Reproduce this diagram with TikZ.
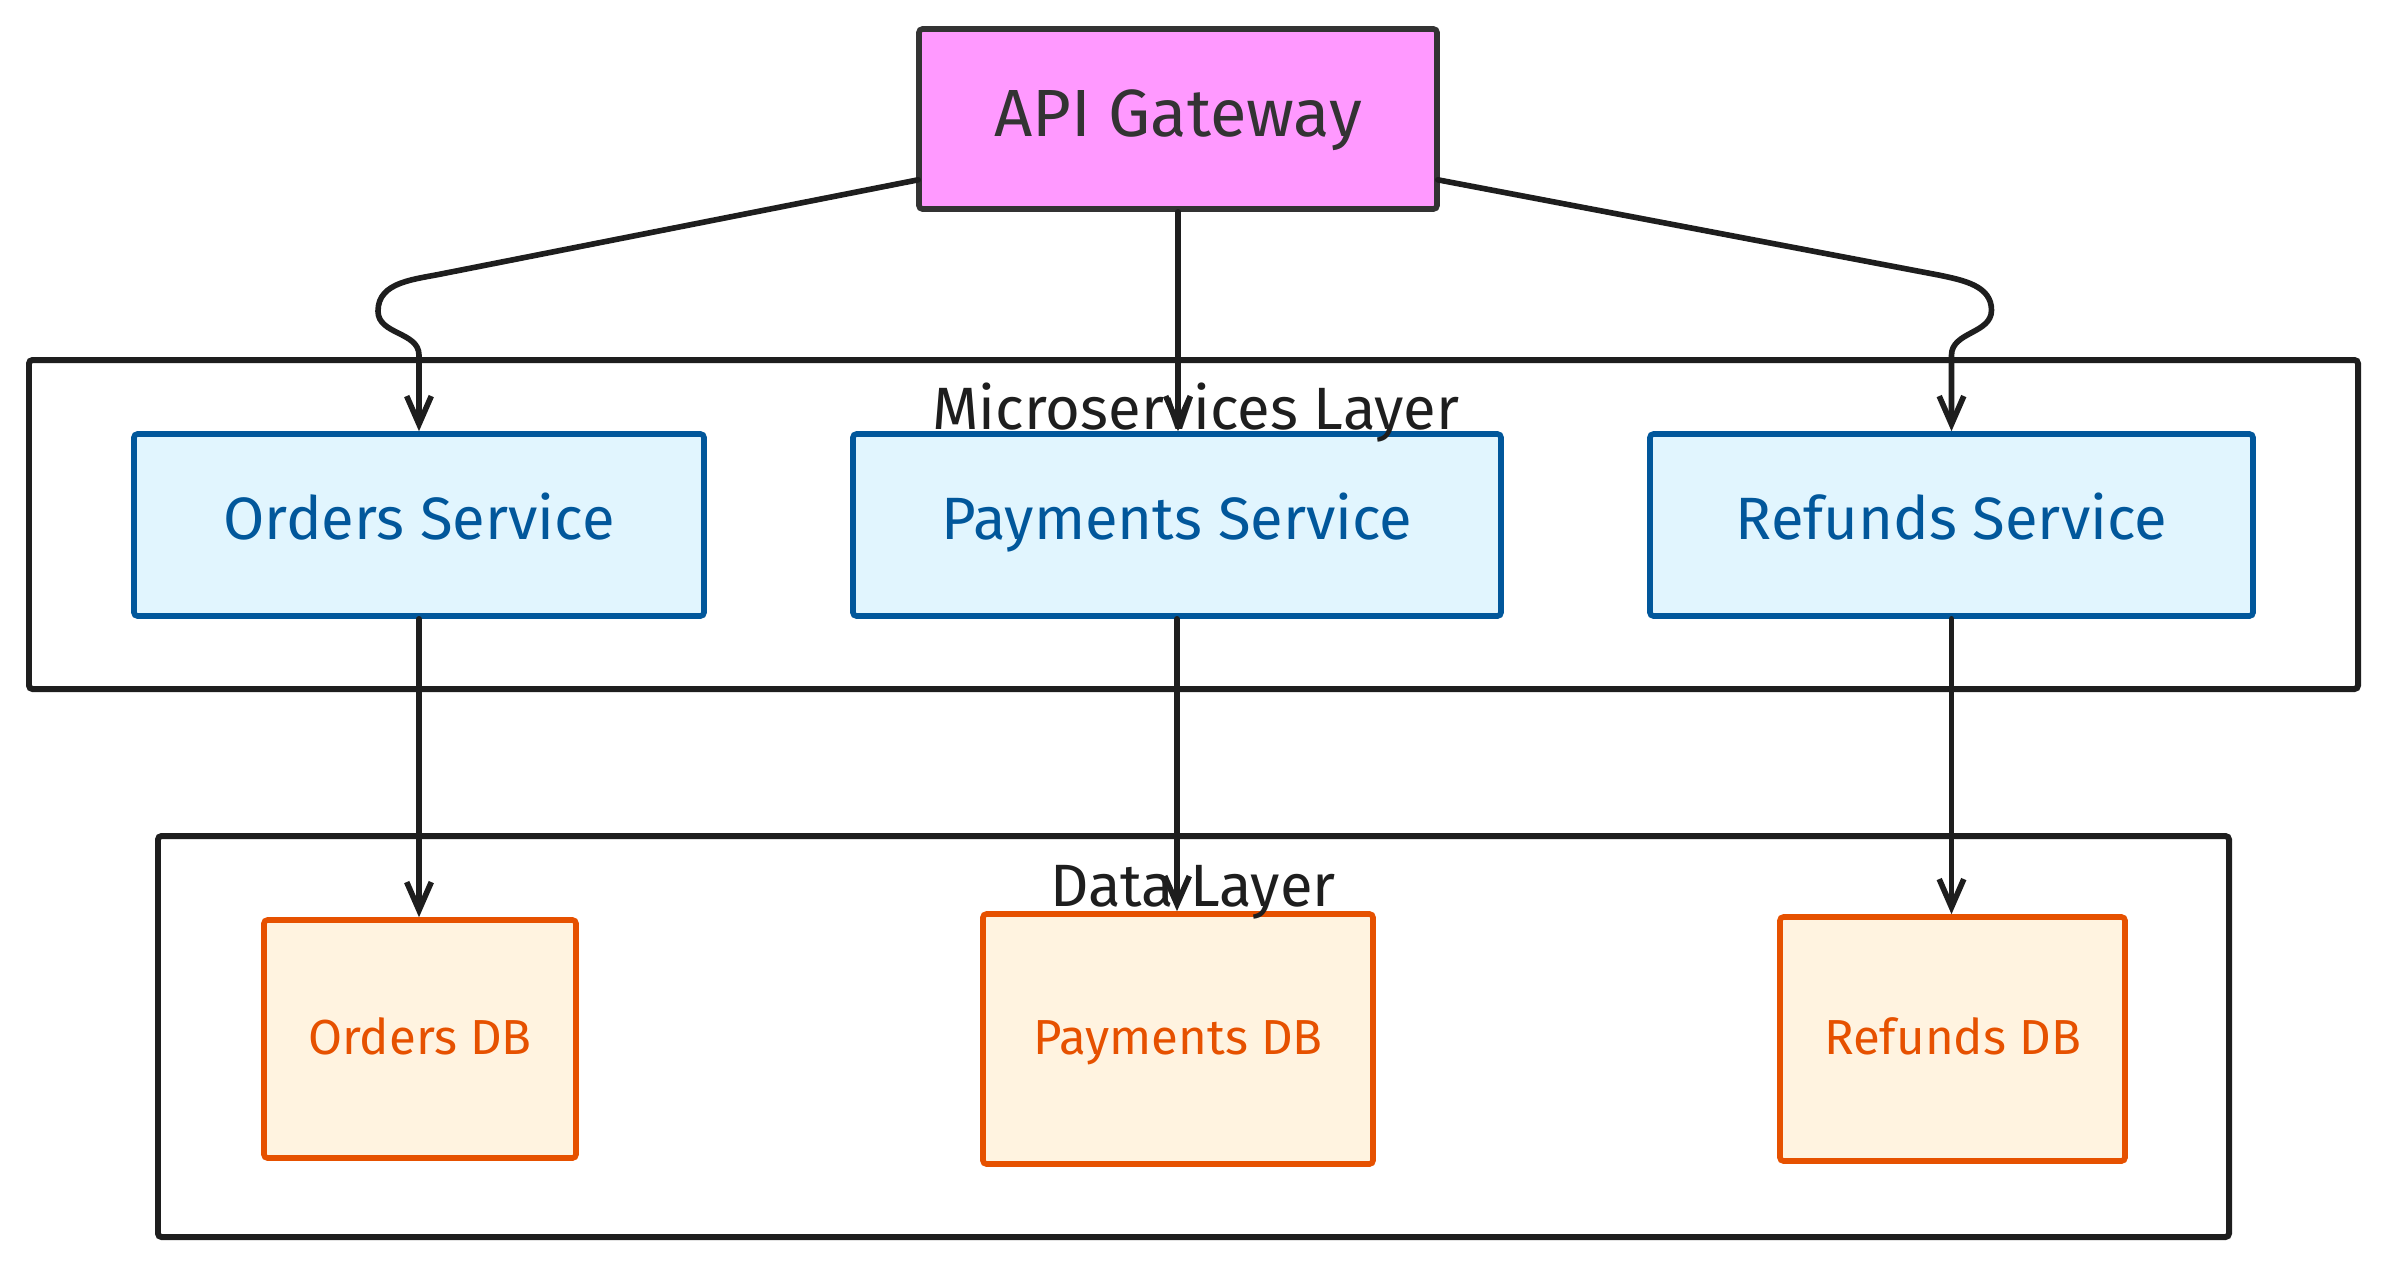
\documentclass[tikz,border=0pt]{standalone}
\usepackage{fontspec}
\setmainfont{Fira Sans}
\usepackage{xcolor}
\usepackage{tikz}
\usetikzlibrary{arrows.meta, positioning, calc}
\definecolor{gwfill}{HTML}{FF99FF}
\definecolor{gwline}{HTML}{333333}
\definecolor{svcfill}{HTML}{E1F5FE}
\definecolor{svcline}{HTML}{01579B}
\definecolor{dbfill}{HTML}{FFF3E0}
\definecolor{dbline}{HTML}{E65100}
\definecolor{ink}{HTML}{1E1E1E}

\begin{document}
\begin{tikzpicture}[
    every node/.style={font=\fontsize{17}{20}\selectfont},
    gate/.style={rectangle, draw=gwline, line width=1.6pt, fill=gwfill, text=gwline,
                 minimum width=5.18cm, minimum height=1.8cm, rounded corners=1pt,
                 text height=1.17em, text depth=0.2em, font=\fontsize{19}{22}\selectfont},
    layer/.style={rectangle, draw=ink, line width=1.7pt, fill=white, rounded corners=1pt},
    lbl/.style={text=ink, inner sep=0pt},
    svc/.style={rectangle, draw=svcline, line width=1.6pt, fill=svcfill, text=svcline,
                minimum height=1.82cm, rounded corners=1pt, text height=1.05em, text depth=0.2em},
    db/.style={rectangle, draw=dbline, line width=1.6pt, fill=dbfill, text=dbline,
               rounded corners=1pt, text height=1.08em, text depth=0.2em,
               font=\fontsize{14}{17}\selectfont},
    arr/.style={-{Straight Barb[length=8pt, width=7pt]}, line width=1.6pt, ink,
                line cap=round, line join=round},
  ]
    \useasboundingbox (0,0) rectangle (23.89,-12.69);
    % layers
    \node[layer, minimum width=23.29cm, minimum height=3.29cm] (msl) at (11.935,-5.245) {};
    \node[layer, minimum width=20.71cm, minimum height=4.01cm] (dl) at (11.935,-10.365) {};
    % gateway
    \node[gate] (gw) at (11.78,-1.19) {API Gateway};
    % services
    \foreach \n/\x/\w/\t in {ord/4.19/5.70/Orders Service, pay/11.77/6.48/Payments Service,
                             ref/19.515/6.03/Refunds Service}{
      \node[svc, minimum width=\w cm] (\n) at (\x,-5.25) {\t};}
    % databases
    \foreach \n/\x/\w/\h/\t in {odb/4.20/3.12/2.38/Orders DB, pdb/11.78/3.90/2.50/Payments DB,
                                rdb/19.525/3.45/2.44/Refunds DB}{
      \node[db, minimum width=\w cm, minimum height=\h cm] (\n) at (\x,-10.39) {\t};}
    \node[lbl] (msltxt) at (11.96,-4.13) {Microservices Layer};
    \node[lbl] (dltxt) at (11.93,-8.92) {Data Layer};
    % arrows
    \coordinate (gwL) at ($(gw.south west)+(0.02,0.32)$);
    \coordinate (gwR) at ($(gw.south east)+(-0.02,0.32)$);
    \draw[arr] (gwL) -- ($(ord.north)+(0.26,1.58)$)
      to[out=192, in=90] ($(ord.north)+(-0.41,1.20)$)
      to[out=-90, in=90] ($(ord.north)+(0,0.76)$) -- (ord.north);
    \draw[arr] (gw.south) -- (gw.south |- pay.north);
    \draw[arr] (gwR) -- ($(ref.north)+(-0.12,1.56)$)
      to[out=-12, in=90] ($(ref.north)+(0.40,1.21)$)
      to[out=-90, in=90] ($(ref.north)+(0,0.76)$) -- (ref.north);
    \foreach \s/\d in {ord/odb, pay/pdb, ref/rdb}
      \draw[arr] (\s.south) -- (\s.south |- \d.north);
  \end{tikzpicture}
\end{document}
